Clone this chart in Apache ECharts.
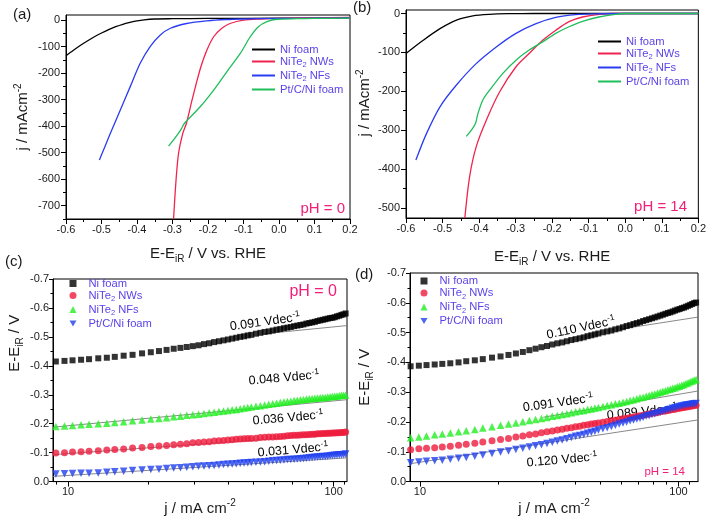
<!DOCTYPE html>
<html><head><meta charset="utf-8">
<script src="https://cdn.jsdelivr.net/npm/echarts@6/dist/echarts.min.js"></script>
<style>html,body{margin:0;padding:0;background:#fff}#c{width:709px;height:517px}</style>
</head><body><div id="c"></div><script>
// ---------- Panel (a): LSV pH 0 ----------
const aNiFoamX = [-0.6,-0.58,-0.56,-0.54,-0.52,-0.50,-0.48,-0.46,-0.44,-0.42,-0.40,-0.38,-0.35,-0.30,-0.20,0.0,0.2];
const aNiFoamY = [-135,-115,-96,-79,-63,-49,-36,-25,-16,-9,-3,1,4,5,6,7,8];
const aNWsX = [-0.297,-0.290,-0.283,-0.271,-0.261,-0.245,-0.233,-0.220,-0.203,-0.184,-0.161,-0.138,-0.10,-0.05,0.0,0.1,0.2];
const aNWsY = [-750,-603,-503,-427,-390,-302,-239,-176,-113,-63,-31,-13,0,4,6,8,10];
const aNFsX = [-0.506,-0.475,-0.447,-0.419,-0.391,-0.363,-0.335,-0.306,-0.26,-0.203,-0.15,-0.10,0.0,0.1,0.2];
const aNFsY = [-528,-427,-339,-251,-163,-100,-57,-31,-13,-3,2,4,6,7,8];
const aPtCX = [-0.311,-0.297,-0.285,-0.275,-0.268,-0.26,-0.222,-0.184,-0.147,-0.109,-0.081,-0.058,-0.034,-0.006,0.05,0.1,0.2];
const aPtCY = [-475,-452,-430,-410,-392,-380,-327,-264,-195,-126,-63,-25,-6,3,5,6,7];
// ---------- Panel (b): LSV pH 14 ----------
const bNiFoamX = [-0.6,-0.553,-0.507,-0.462,-0.417,-0.371,-0.32,-0.25,-0.1,0.2];
const bNiFoamY = [-103,-69,-39,-17,-6,-2,-0.5,0,0,0];
const bNWsX = [-0.439,-0.426,-0.408,-0.38,-0.344,-0.299,-0.263,-0.226,-0.19,-0.154,-0.117,-0.072,-0.03,0.2];
const bNWsY = [-526,-420,-343,-274,-202,-137,-103,-69,-43,-21,-9,-2,0,0];
const bNFsX = [-0.573,-0.544,-0.507,-0.462,-0.408,-0.353,-0.299,-0.244,-0.19,-0.136,-0.08,0.0,0.2];
const bNFsY = [-377,-309,-240,-184,-129,-86,-51,-26,-10,-3,-1,0,0];
const bPtCX = [-0.435,-0.421,-0.41,-0.403,-0.39,-0.371,-0.335,-0.299,-0.263,-0.226,-0.19,-0.154,-0.117,-0.072,-0.027,0.0,0.2];
const bPtCY = [-316,-300,-283,-257,-223,-197,-154,-120,-94,-73,-51,-34,-20,-9,-2,0,0];
// ---------- Panel (c): Tafel pH 0 ----------
const jC = [9.0,9.7,10.4,11.2,12.0,13.0,14.0,15.0,16.2,17.5,19.0,20.5,22.0,23.5,25,26.5,28,29.5,31,32.5,34,35.5,37,38.5,40,41.5,43,44.5,46,47.5,49,51,53,55,57,59,61,63,65,67,69,71,73,75,77,79,81,83,85,87,89,91,93,95,97,99,101,103,105,107,109,111];
const cNiFoam = [-0.415,-0.417,-0.419,-0.421,-0.423,-0.426,-0.428,-0.431,-0.435,-0.438,-0.443,-0.447,-0.451,-0.455,-0.459,-0.462,-0.465,-0.468,-0.471,-0.475,-0.478,-0.482,-0.485,-0.488,-0.491,-0.494,-0.497,-0.500,-0.502,-0.505,-0.507,-0.511,-0.514,-0.517,-0.519,-0.522,-0.525,-0.527,-0.530,-0.532,-0.534,-0.537,-0.539,-0.541,-0.543,-0.546,-0.548,-0.550,-0.552,-0.555,-0.557,-0.559,-0.561,-0.563,-0.565,-0.566,-0.568,-0.571,-0.573,-0.576,-0.578,-0.581];
const cNWs = [-0.099,-0.100,-0.102,-0.103,-0.105,-0.107,-0.109,-0.111,-0.113,-0.116,-0.118,-0.121,-0.123,-0.125,-0.127,-0.129,-0.131,-0.134,-0.135,-0.137,-0.138,-0.140,-0.141,-0.142,-0.144,-0.145,-0.146,-0.147,-0.148,-0.149,-0.149,-0.150,-0.152,-0.153,-0.154,-0.154,-0.155,-0.156,-0.157,-0.158,-0.159,-0.160,-0.160,-0.161,-0.162,-0.162,-0.163,-0.164,-0.164,-0.165,-0.165,-0.166,-0.166,-0.167,-0.167,-0.168,-0.168,-0.169,-0.169,-0.170,-0.170,-0.171];
const cNFs = [-0.190,-0.192,-0.194,-0.196,-0.198,-0.200,-0.202,-0.204,-0.207,-0.210,-0.213,-0.216,-0.218,-0.221,-0.224,-0.226,-0.229,-0.231,-0.233,-0.235,-0.238,-0.240,-0.242,-0.244,-0.246,-0.248,-0.249,-0.252,-0.254,-0.256,-0.258,-0.260,-0.262,-0.265,-0.267,-0.269,-0.271,-0.273,-0.275,-0.277,-0.278,-0.280,-0.281,-0.283,-0.284,-0.285,-0.286,-0.287,-0.288,-0.289,-0.290,-0.291,-0.291,-0.292,-0.293,-0.294,-0.295,-0.296,-0.297,-0.298,-0.298,-0.299];
const cPtC = [-0.026,-0.027,-0.028,-0.029,-0.029,-0.030,-0.032,-0.034,-0.036,-0.038,-0.040,-0.042,-0.043,-0.045,-0.047,-0.048,-0.050,-0.051,-0.053,-0.054,-0.055,-0.056,-0.057,-0.059,-0.060,-0.061,-0.062,-0.063,-0.064,-0.065,-0.066,-0.067,-0.068,-0.069,-0.070,-0.072,-0.073,-0.074,-0.075,-0.076,-0.076,-0.077,-0.078,-0.079,-0.080,-0.081,-0.082,-0.083,-0.084,-0.085,-0.086,-0.087,-0.087,-0.088,-0.089,-0.090,-0.091,-0.092,-0.093,-0.093,-0.094,-0.095];
const cFitNiJ = [55,112], cFitNiE = [-0.511,-0.539];
const cFitNFsJ = [8.78,112], cFitNFsE = [-0.188,-0.283];
const cFitNWsJ = [8.78,112], cFitNWsE = [-0.093,-0.166];
const cFitPtCJ = [8.78,112], cFitPtCE = [-0.018,-0.082];
// ---------- Panel (d): Tafel pH 14 ----------
const jD = [9.2,9.9,10.6,11.4,12.2,13.1,14.1,15.1,16.3,17.5,19.0,20.5,22.0,23.5,25,26.5,28,29.5,31,32.5,34,35.5,37,38.5,40,41.5,43,44.5,46,47.5,49,51,53,55,57,59,61,63,65,67,69,71,73,75,77,79,81,83,85,87,89,91,93,95,97,99,101,103,105,107,109,111,113,115,117];
const dNiFoam = [-0.387,-0.389,-0.391,-0.393,-0.395,-0.397,-0.400,-0.404,-0.407,-0.411,-0.416,-0.420,-0.425,-0.430,-0.435,-0.441,-0.446,-0.451,-0.455,-0.460,-0.464,-0.467,-0.471,-0.475,-0.478,-0.481,-0.484,-0.488,-0.491,-0.494,-0.497,-0.501,-0.504,-0.507,-0.511,-0.514,-0.518,-0.522,-0.525,-0.529,-0.532,-0.535,-0.539,-0.542,-0.545,-0.548,-0.551,-0.554,-0.557,-0.560,-0.563,-0.566,-0.568,-0.571,-0.574,-0.577,-0.579,-0.582,-0.584,-0.587,-0.590,-0.593,-0.596,-0.599,-0.601];
const dNWs = [-0.107,-0.110,-0.112,-0.114,-0.116,-0.119,-0.122,-0.125,-0.129,-0.133,-0.137,-0.141,-0.145,-0.150,-0.153,-0.157,-0.160,-0.164,-0.167,-0.170,-0.173,-0.176,-0.179,-0.181,-0.184,-0.186,-0.189,-0.191,-0.193,-0.195,-0.197,-0.199,-0.202,-0.204,-0.206,-0.209,-0.211,-0.213,-0.215,-0.217,-0.219,-0.221,-0.223,-0.225,-0.227,-0.229,-0.230,-0.232,-0.234,-0.236,-0.237,-0.239,-0.240,-0.242,-0.243,-0.245,-0.246,-0.248,-0.249,-0.250,-0.251,-0.253,-0.254,-0.255,-0.256];
const dNFs = [-0.147,-0.150,-0.153,-0.157,-0.160,-0.163,-0.167,-0.171,-0.175,-0.180,-0.184,-0.189,-0.193,-0.197,-0.201,-0.205,-0.208,-0.212,-0.215,-0.219,-0.222,-0.225,-0.228,-0.231,-0.234,-0.237,-0.239,-0.242,-0.244,-0.247,-0.249,-0.252,-0.255,-0.258,-0.261,-0.263,-0.266,-0.269,-0.272,-0.275,-0.278,-0.281,-0.283,-0.286,-0.289,-0.292,-0.294,-0.297,-0.300,-0.303,-0.305,-0.308,-0.310,-0.313,-0.315,-0.318,-0.320,-0.323,-0.326,-0.329,-0.332,-0.335,-0.338,-0.341,-0.343];
const dPtC = [-0.063,-0.066,-0.068,-0.070,-0.072,-0.075,-0.078,-0.081,-0.085,-0.089,-0.094,-0.099,-0.103,-0.108,-0.112,-0.116,-0.120,-0.124,-0.128,-0.132,-0.136,-0.140,-0.144,-0.148,-0.152,-0.155,-0.158,-0.162,-0.166,-0.169,-0.173,-0.177,-0.181,-0.185,-0.189,-0.193,-0.197,-0.200,-0.204,-0.207,-0.210,-0.213,-0.216,-0.220,-0.222,-0.225,-0.228,-0.230,-0.233,-0.236,-0.238,-0.241,-0.243,-0.246,-0.248,-0.250,-0.252,-0.254,-0.255,-0.257,-0.258,-0.259,-0.260,-0.261,-0.262];
const dFitNiJ = [60,119], dFitNiE = [-0.512,-0.552];
const dFitNFsJ = [30,119], dFitNFsE = [-0.216,-0.304];
const dFitPtCJ = [9.15,119], dFitPtCE = [-0.060,-0.207];
// ---------- tick values ----------
const aYTicks = [-700,-600,-500,-400,-300,-200,-100,0];
const aYMinor = [-750,-650,-550,-450,-350,-250,-150,-50];
const bYTicks = [-500,-400,-300,-200,-100,0];
const bYMinor = [-450,-350,-250,-150,-50];
const logTicks = [10,100];
const cLogMinor = [9,20,30,40,50,60,70,80,90,110];
const dLogMinor = [20,30,40,50,60,70,80,90,110];
const seriesNames = ['Ni foam','NiTe2 NWs','NiTe2 NFs','Pt/C/Ni foam'];

const FONT = "'Liberation Sans', Arial, sans-serif";
const TXT = '#5b43e8', PINK = '#f0207a', AX = '#1a1a1a';
const LC = ['#000000','#f0234e','#2a3cf2','#1fbe5a'];
const SC = ['#000000','#ee1c3c','#22ee22','#2040ee'];

const zip = (xs, ys) => xs.map((x, i) => [x, ys[i]]);
const f1 = v => (Math.abs(v) < 1e-9 ? 0 : v).toFixed(1);

const nameRich = {
  m: {fontSize: 15, fontFamily: FONT, color: AX, lineHeight: 20},
  s: {fontSize: 10, fontFamily: FONT, color: AX, verticalAlign: 'bottom', lineHeight: 6},
  p: {fontSize: 10, fontFamily: FONT, color: AX, verticalAlign: 'top', lineHeight: 10}
};
const nameE = '{m|E-E}{s|iR}{m| / V vs. RHE}';
const nameE2 = '{m|E-E}{s|iR}{m| / V}';
const nameJ = '{m|j / mAcm}{p|-2}';
const nameJ2 = '{m|j / mA cm}{p|-2}';

const legRich = {
  t: {fontSize: 11.2, fontFamily: FONT, color: TXT, lineHeight: 15},
  s: {fontSize: 7.5, fontFamily: FONT, color: TXT, verticalAlign: 'bottom', lineHeight: 6},
  g: {width: 7, fontSize: 11}
};
function legFmt(name) {
  const n = name.split(':')[1];
  const pre = name[0] === 'c' || name[0] === 'd' ? '{g| }' : '';
  if (n.indexOf('NiTe2') === 0) return pre + '{t|NiTe}{s|2}{t|' + n.slice(5) + '}';
  return pre + '{t|' + n + '}';
}

function valueX(grid) {
  return {gridIndex: grid, type: 'value', min: -0.6, max: 0.2, interval: 0.1,
    axisLine: {show: true, onZero: false, lineStyle: {color: '#000', width: 1}},
    axisTick: {show: true, length: 5, lineStyle: {color: '#000'}},
    minorTick: {show: true, splitNumber: 2, length: 3, lineStyle: {color: '#000'}},
    axisLabel: {formatter: f1, fontSize: 11, fontFamily: FONT, color: AX, margin: 5},
    splitLine: {show: false},
    name: nameE, nameLocation: 'middle', nameGap: grid === 0 ? 25 : 29,
    nameTextStyle: {rich: nameRich}};
}
function lsvY(grid, min, max, ticks, gap, pad) {
  return {gridIndex: grid, type: 'value', min: min, max: max,
    axisLine: {show: true, onZero: false, lineStyle: {color: '#000', width: 1}},
    axisTick: {show: true, length: 5, customValues: ticks, lineStyle: {color: '#000'}},
    axisLabel: {customValues: ticks, fontSize: 11, fontFamily: FONT, color: AX, margin: 6},
    splitLine: {show: false},
    name: nameJ, nameLocation: 'middle', nameGap: gap,
    nameTextStyle: {rich: nameRich, padding: pad}};
}
function minorY(grid, min, max, ticks) {
  return {gridIndex: grid, type: 'value', min: min, max: max, position: 'left',
    axisLine: {show: false, onZero: false}, axisLabel: {show: false}, splitLine: {show: false},
    axisTick: {show: true, length: 3, customValues: ticks, lineStyle: {color: '#000'}}};
}
function logX(grid, min, max, gap) {
  return {gridIndex: grid, type: 'log', logBase: 10, min: min, max: max,
    axisLine: {show: true, onZero: false, lineStyle: {color: '#000', width: 1}},
    axisTick: {show: true, length: 5, customValues: logTicks, lineStyle: {color: '#000'}},
    axisLabel: {customValues: logTicks, fontSize: 11, fontFamily: FONT, color: AX, margin: 5},
    splitLine: {show: false},
    name: nameJ2, nameLocation: 'middle', nameGap: gap,
    nameTextStyle: {rich: nameRich}};
}
function minorLogX(grid, min, max, ticks) {
  return {gridIndex: grid, type: 'log', logBase: 10, min: min, max: max, position: 'bottom',
    axisLine: {show: false, onZero: false}, axisLabel: {show: false}, splitLine: {show: false},
    axisTick: {show: true, length: 3, customValues: ticks, lineStyle: {color: '#000'}}};
}
function tafelY(grid, gap, pad) {
  return {gridIndex: grid, type: 'value', min: -0.7, max: 0, interval: 0.1, inverse: true,
    axisLine: {show: true, onZero: false, lineStyle: {color: '#000', width: 1}},
    axisTick: {show: true, length: 4, lineStyle: {color: '#000'}},
    minorTick: {show: true, splitNumber: 2, length: 2.5, lineStyle: {color: '#000'}},
    axisLabel: {formatter: f1, fontSize: 11, fontFamily: FONT, color: AX, margin: 4},
    splitLine: {show: false},
    name: nameE2, nameLocation: 'middle', nameGap: gap,
    nameTextStyle: {rich: nameRich, padding: pad}};
}

const series = [];
function lsv(prefix, xi, data) {
  data.forEach((d, k) => series.push({type: 'line', name: prefix + ':' + seriesNames[k],
    xAxisIndex: xi, yAxisIndex: xi, data: zip(d[0], d[1]), symbol: 'none', showSymbol: false,
    smooth: 0.3, clip: true, lineStyle: {color: LC[k], width: 1.3}, itemStyle: {color: LC[k]}, z: 3}));
}
lsv('a', 0, [[aNiFoamX, aNiFoamY], [aNWsX, aNWsY], [aNFsX, aNFsY], [aPtCX, aPtCY]]);
lsv('b', 1, [[bNiFoamX, bNiFoamY], [bNWsX, bNWsY], [bNFsX, bNFsY], [bPtCX, bPtCY]]);

function fit(xi, js, es) {
  series.push({type: 'line', name: 'fit', xAxisIndex: xi, yAxisIndex: xi, data: zip(js, es),
    symbol: 'none', showSymbol: false, silent: true, clip: true,
    lineStyle: {color: '#7a7a7a', width: 0.9}, z: 1});
}
fit(2, cFitNiJ, cFitNiE); fit(2, cFitNFsJ, cFitNFsE); fit(2, cFitNWsJ, cFitNWsE); fit(2, cFitPtCJ, cFitPtCE);
fit(3, dFitNiJ, dFitNiE); fit(3, dFitNFsJ, dFitNFsE); fit(3, dFitPtCJ, dFitPtCE);

const SYM = ['rect', 'circle', 'triangle', 'path://M0,0L10,0L5,8.66Z'];
const SSZ = [6, 7, 7.5, 7.5];
function tafel(prefix, xi, js, sets) {
  sets.forEach((es, k) => series.push({type: 'scatter', name: prefix + ':' + seriesNames[k],
    xAxisIndex: xi, yAxisIndex: xi, data: zip(js, es), symbol: SYM[k], symbolSize: SSZ[k],
    itemStyle: {color: SC[k]}, z: 2 + k}));
}
tafel('c', 2, jC, [cNiFoam, cNWs, cNFs, cPtC]);
tafel('d', 3, jD, [dNiFoam, dNWs, dNFs, dPtC]);

function legend(prefix, left, top, lines) {
  const o = {left: left, top: top, orient: 'vertical', padding: 0, itemGap: 1,
    data: seriesNames.map(n => prefix + ':' + n), formatter: legFmt, selectedMode: false,
    textStyle: {color: TXT, fontFamily: FONT, fontSize: 11.2, rich: legRich}};
  if (lines) { o.icon = 'rect'; o.itemWidth = 23; o.itemHeight = 2; }
  else { o.itemWidth = 7; o.itemHeight = 7; }
  return o;
}

function txt(x, y, text, opt) {
  return {type: 'text', x: x, y: y, silent: true,
    style: Object.assign({text: text, fill: AX, font: '15px ' + FONT, align: 'left', verticalAlign: 'middle'}, opt || {})};
}
const annRich = (c, fs) => ({
  v: {fontSize: fs, fontFamily: FONT, color: c, lineHeight: 16},
  p: {fontSize: fs * 0.68, fontFamily: FONT, color: c, verticalAlign: 'top', lineHeight: 8}
});
function ann(x, y, val, c, deg, fs) {
  return {type: 'text', x: x, y: y, rotation: deg * Math.PI / 180, silent: true,
    style: {text: '{v|' + val + ' Vdec}{p|-1}', rich: annRich(c, fs || 12.5), align: 'center', verticalAlign: 'middle'}};
}

const option = {
  animation: false,
  backgroundColor: '#fff',
  grid: [
    {left: 66, top: 15, width: 284, height: 204, show: true, borderColor: '#000', borderWidth: 1},
    {left: 406, top: 10, width: 294, height: 208, show: true, borderColor: '#000', borderWidth: 1},
    {left: 53, top: 279, width: 294, height: 203, show: true, borderColor: '#000', borderWidth: 1},
    {left: 410, top: 273, width: 288, height: 211, show: true, borderColor: '#000', borderWidth: 1}
  ],
  xAxis: [valueX(0), valueX(1), logX(2, 8.78, 112.3, 8), logX(3, 9.15, 119, 6),
    minorLogX(2, 8.78, 112.3, cLogMinor), minorLogX(3, 9.15, 119, dLogMinor)],
  yAxis: [lsvY(0, -750, 19, aYTicks, 33, [0, 0, 0, 0]), lsvY(1, -526, 9, bYTicks, 31, [0, 0, 0, 22]),
    tafelY(2, 28, [0, 0, 0, 74]), tafelY(3, 35, [0, 0, 0, 0]),
    minorY(0, -750, 19, aYMinor), minorY(1, -526, 9, bYMinor)],
  legend: [legend('a', 252, 44, true), legend('b', 598, 36, true),
    legend('c', 69.5, 278, false), legend('d', 420.5, 275.5, false)],
  series: series,
  graphic: [
    txt(13, 15, '(a)'), txt(353, 8, '(b)'), txt(5, 262, '(c)'), txt(355, 275, '(d)'),
    txt(345, 209, 'pH = 0', {fill: PINK, align: 'right'}),
    txt(687, 207, 'pH = 14', {fill: PINK, align: 'right'}),
    txt(337, 292, 'pH = 0', {fill: PINK, align: 'right', font: '16px ' + FONT}),
    txt(685, 472, 'pH = 14', {fill: PINK, align: 'right', font: '11.5px ' + FONT}),
    ann(265, 322, '0.091', '#111111', 8), ann(284, 378, '0.048', '#22ee22', 5),
    ann(288, 418, '0.036', '#f0204a', 5), ann(293, 450, '0.031', '#2030e0', 5),
    ann(581, 328, '0.110', '#111111', 12), ann(558, 403, '0.091', '#3050e8', 8),
    ann(642, 412, '0.089', '#f0204a', 6), ann(562, 460, '0.120', '#20c070', 5)
  ]
};
const chart = echarts.init(document.getElementById('c'), null, {renderer: 'canvas'});
chart.setOption(option);
</script></body></html>
